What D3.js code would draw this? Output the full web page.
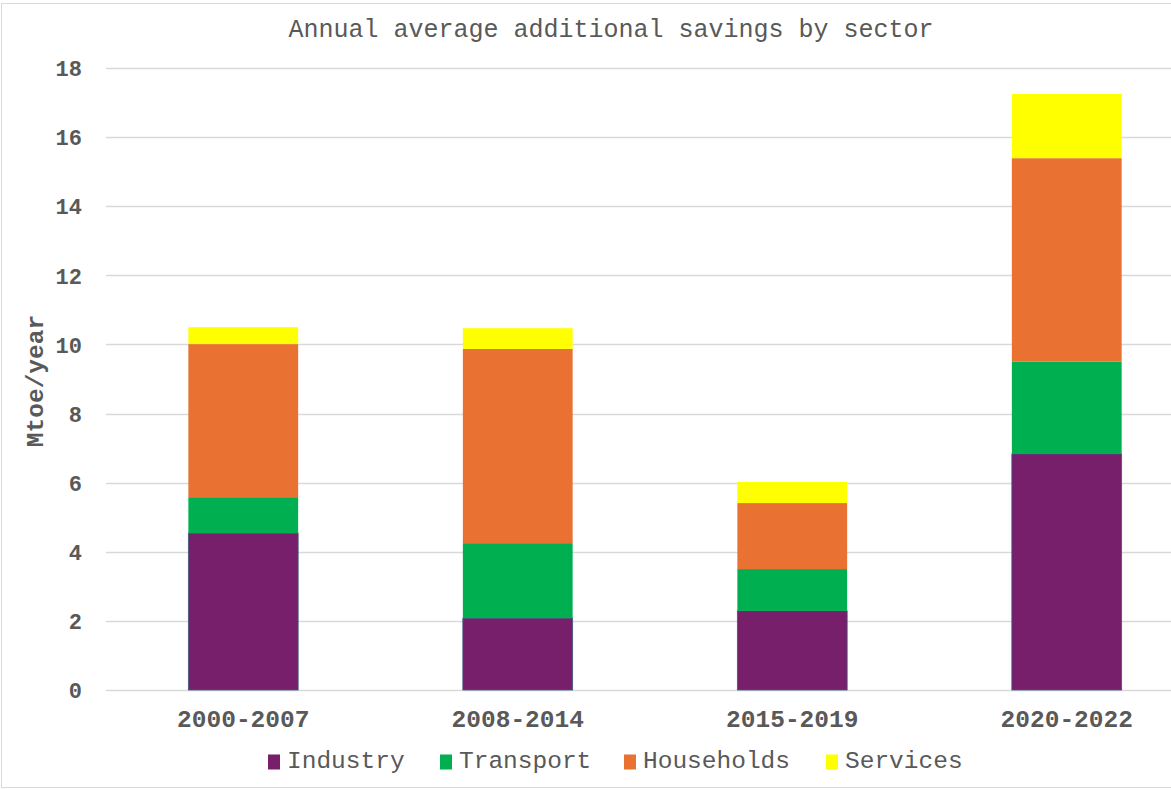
<!DOCTYPE html>
<html>
<head>
<meta charset="utf-8">
<script src="https://cdn.jsdelivr.net/npm/d3@7"></script>
<style>
  html, body { margin: 0; padding: 0; background: #fff; }
  svg text { font-family: "Courier New", "Nimbus Mono PS", "FreeMono", "Liberation Mono", monospace; fill: #595959; }
</style>
</head>
<body>
<svg id="chart" width="1171" height="790"></svg>
<script>
// Periods on the x axis
const periods = ["2000-2007", "2008-2014", "2015-2019", "2020-2022"];
// Sector series (Mtoe/year), stacked bottom to top
const sectors = ["Industry", "Transport", "Households", "Services"];
const industry   = [4.54, 2.08, 2.29, 6.83];
const transport  = [1.04, 2.17, 1.21, 2.67];
const households = [4.43, 5.62, 1.91, 5.89];
const services   = [0.49, 0.60, 0.61, 1.86];
const sectorColors = ["#771F6A", "#00B050", "#E97132", "#FFFF00"];
const yTicks = [0, 2, 4, 6, 8, 10, 12, 14, 16, 18];

const rows = periods.map((p, i) => ({
  period: p,
  Industry: industry[i],
  Transport: transport[i],
  Households: households[i],
  Services: services[i]
}));

const svg = d3.select("#chart");

// Outer frame
svg.append("rect")
  .attr("x", 1.5).attr("y", 3.5)
  .attr("width", 1190).attr("height", 784)
  .attr("fill", "none").attr("stroke", "#d9d9d9").attr("stroke-width", 1);

const x = d3.scaleBand()
  .domain(periods)
  .range([106, 1204])
  .paddingInner(0.6)
  .paddingOuter(0.3);

const y = d3.scaleLinear().domain([0, 18]).range([690, 68]);

const color = d3.scaleOrdinal().domain(sectors).range(sectorColors);

// Horizontal gridlines
svg.append("g")
  .selectAll("line")
  .data(yTicks)
  .join("line")
  .attr("x1", 106).attr("x2", 1204)
  .attr("y1", d => Math.round(y(d)) + 0.5)
  .attr("y2", d => Math.round(y(d)) + 0.5)
  .attr("stroke", "#d9d9d9").attr("stroke-width", 1.3);

// Y axis labels
const yAxis = d3.axisLeft(y).tickValues(yTicks).tickSize(0).tickPadding(0);
svg.append("g")
  .attr("transform", "translate(82,0)")
  .call(yAxis)
  .call(g => g.select(".domain").remove())
  .call(g => g.selectAll("text")
    .attr("fill", "#595959")
    .style("font-size", "22px")
    .style("font-weight", "bold")
    .attr("dy", "0.35em"));

// X axis labels
const xAxis = d3.axisBottom(x).tickSize(0).tickPadding(0);
svg.append("g")
  .attr("transform", "translate(0,718)")
  .call(xAxis)
  .call(g => g.select(".domain").remove())
  .call(g => g.selectAll("text")
    .attr("fill", "#595959")
    .style("font-size", "24.5px")
    .style("font-weight", "bold")
    .attr("dy", "0.35em"));

// Stacked bars
const stack = d3.stack().keys(sectors);
const series = stack(rows);

svg.append("g")
  .selectAll("g")
  .data(series)
  .join("g")
  .attr("fill", d => color(d.key))
  .selectAll("rect")
  .data(d => d.map(v => Object.assign(v, { key: d.key })))
  .join("rect")
  .attr("x", d => x(d.data.period))
  .attr("width", x.bandwidth())
  .attr("y", d => y(d[1]))
  .attr("height", d => y(d[0]) - y(d[1]))
  .attr("stroke", d => d.key === "Industry" ? "#3D5A80" : "none")
  .attr("stroke-width", d => d.key === "Industry" ? 0.8 : 0);

// Title
svg.append("text")
  .attr("x", 611).attr("y", 30)
  .attr("text-anchor", "middle")
  .attr("dominant-baseline", "middle")
  .style("font-size", "25px")
  .text("Annual average additional savings by sector");

// Y axis title
svg.append("text")
  .attr("transform", "translate(37,381) rotate(-90)")
  .attr("text-anchor", "middle")
  .attr("dominant-baseline", "middle")
  .style("font-size", "24.5px")
  .style("font-weight", "bold")
  .text("Mtoe/year");

// Legend
const legendX = [268, 440, 624, 826];
const legend = svg.append("g")
  .selectAll("g")
  .data(sectors)
  .join("g")
  .attr("transform", (d, i) => `translate(${legendX[i]},762)`);

legend.append("rect")
  .attr("x", 0).attr("y", -7.5)
  .attr("width", 12).attr("height", 15)
  .attr("fill", d => color(d));

legend.append("text")
  .attr("x", 19).attr("y", 0)
  .attr("dominant-baseline", "middle")
  .style("font-size", "24.5px")
  .text(d => d);
</script>
</body>
</html>
